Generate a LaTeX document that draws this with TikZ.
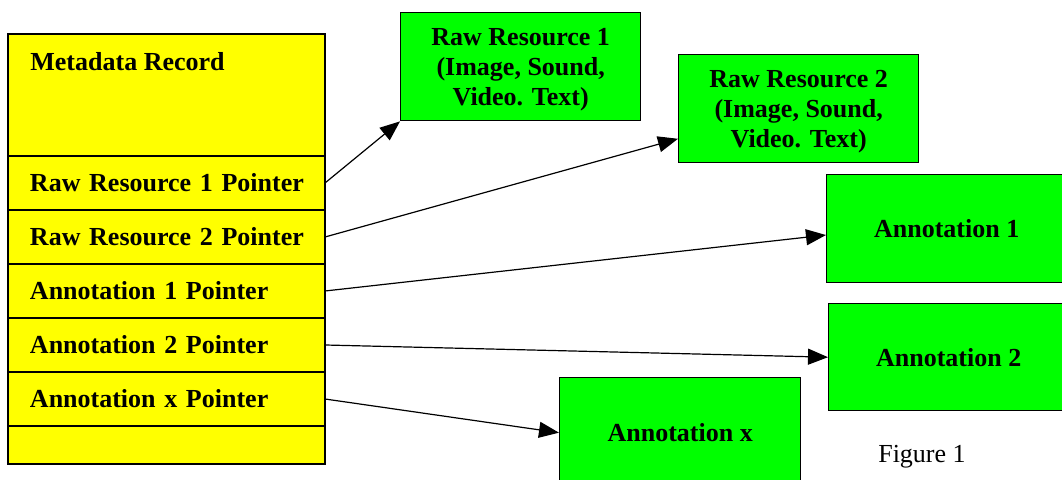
\documentclass[tikz,border=0pt]{standalone}
\usepackage{fontspec}
\setmainfont{Liberation Serif}
\usetikzlibrary{positioning,arrows.meta}
\definecolor{recordyellow}{HTML}{FFFF00}
\definecolor{boxgreen}{HTML}{00FF00}
\begin{document}
\begin{tikzpicture}[x=0.5pt,y=-0.5pt,
  field/.style={draw, line width=0.7pt, fill=recordyellow, outer sep=0pt, minimum width=158.5pt,
    minimum height=27pt, text width=142.5pt, inner xsep=8pt, align=left,
    execute at begin node={\leftskip=3pt}, font=\fontsize{13}{15}\selectfont\bfseries},
  target/.style={draw, line width=0.7pt, fill=boxgreen, anchor=north west, minimum width=120pt,
    minimum height=54pt, align=center, font=\fontsize{13}{15}\selectfont\bfseries},
  pointer/.style={-{Triangle[length=10pt,width=8pt]}, line width=0.6pt}]
\useasboundingbox (0,0) rectangle (1062,480);
% metadata record
\node[field, anchor=north west, minimum height=61pt] (meta) at (8,34) {};
\node[anchor=north west, inner sep=0pt, font=\fontsize{13}{15}\selectfont\bfseries] (metatitle)
  at ([xshift=11pt,yshift=-9pt]meta.north west) {Metadata Record};
\node[field, below=0pt of meta] (rr1ptr) {Raw Resource 1 Pointer};
\node[field, below=0pt of rr1ptr] (rr2ptr) {Raw Resource 2 Pointer};
\node[field, below=0pt of rr2ptr] (an1ptr) {Annotation 1 Pointer};
\node[field, below=0pt of an1ptr] (an2ptr) {Annotation 2 Pointer};
\node[field, below=0pt of an2ptr] (anxptr) {Annotation x Pointer};
\node[field, below=0pt of anxptr, minimum height=19pt] (spare) {};
% resources and annotations
\node[target, text depth=0pt] (res1) at (400,12) {Raw Resource 1\\(Image, Sound,\\Video. Text)};
\node[target, text depth=0pt] (res2) at (678,54) {Raw Resource 2\\(Image, Sound,\\Video. Text)};
\node[target] (ann1) at (826,174) {Annotation 1};
\node[target, minimum height=53.5pt] (ann2) at (828,303) {Annotation 2};
\node[target, minimum width=120.5pt, minimum height=55pt] (annx) at (559,377) {Annotation x};
\node[font=\fontsize{13}{15}\selectfont] (caption) at (922,457) {Figure 1};
% pointers
\draw[pointer] (rr1ptr.east) -- (res1.south west);
\draw[pointer] (rr2ptr.east) -- (res2.194);
\draw[pointer] (an1ptr.east) -- (ann1.183);
\draw[pointer] (an2ptr.east) -- (ann2.west);
\draw[pointer] (anxptr.east) -- (annx.west);
\end{tikzpicture}
\end{document}
